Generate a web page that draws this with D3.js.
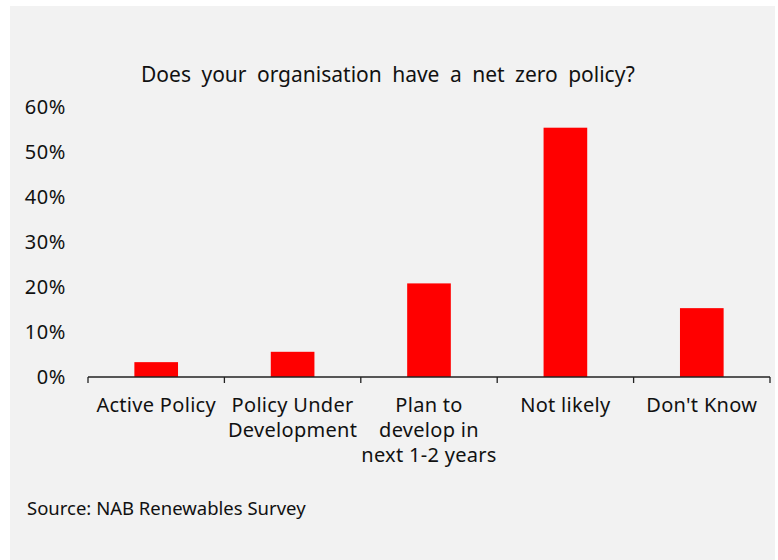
<!DOCTYPE html>
<html>
<head>
<meta charset="utf-8">
<script src="https://cdn.jsdelivr.net/npm/d3@7"></script>
<style>
  html, body { margin: 0; padding: 0; background: #ffffff; }
  svg { display: block; }
  text { font-family: "Noto Sans", "Open Sans", sans-serif; fill: #111; }
</style>
</head>
<body>
<svg id="chart" width="778" height="560"></svg>
<script>
// Survey responses: share of organisations by net zero policy status
const categories = ["Active Policy", "Policy Under Development", "Plan to develop in next 1-2 years", "Not likely", "Don't Know"];
const categoryLines = [["Active Policy"], ["Policy Under", "Development"], ["Plan to", "develop in", "next 1-2 years"], ["Not likely"], ["Don't Know"]];
const shares = [0.033, 0.056, 0.208, 0.554, 0.153];
const yTicks = [0, 0.1, 0.2, 0.3, 0.4, 0.5, 0.6];
const title = "Does your organisation have a net zero policy?";
const source = "Source: NAB Renewables Survey";

const svg = d3.select("#chart");

// panel background
svg.append("rect")
  .attr("x", 10).attr("y", 6)
  .attr("width", 765).attr("height", 554)
  .attr("fill", "#f2f2f2");

const x = d3.scaleBand()
  .domain(categories)
  .range([88, 770])
  .paddingInner(0.68)
  .paddingOuter(0.34);

const y = d3.scaleLinear()
  .domain([0, 0.6])
  .range([377, 107]);

// title
svg.append("text")
  .attr("x", 388).attr("y", 82)
  .attr("text-anchor", "middle")
  .style("font-size", "21px")
  .style("word-spacing", "5px")
  .text(title);

// y tick labels (no axis line)
svg.append("g")
  .selectAll("text")
  .data(yTicks)
  .join("text")
  .attr("x", 66)
  .attr("y", d => y(d))
  .attr("dy", "0.35em")
  .attr("text-anchor", "end")
  .style("font-size", "20px")
  .style("letter-spacing", "0.6px")
  .text(d => d3.format(".0%")(d));

// bars
svg.append("g")
  .selectAll("rect")
  .data(categories)
  .join("rect")
  .attr("x", d => x(d))
  .attr("y", (d, i) => y(shares[i]))
  .attr("width", x.bandwidth())
  .attr("height", (d, i) => y(0) - y(shares[i]))
  .attr("fill", "#ff0000");

// x axis line with ticks at category boundaries
const [x0, x1] = x.range();
const step = x.step();
const boundaries = d3.range(categories.length + 1).map(i => x0 + i * step);
const axis = svg.append("g").attr("stroke", "#222").attr("stroke-width", 1.3);
axis.append("line")
  .attr("x1", x0).attr("x2", x1)
  .attr("y1", y(0)).attr("y2", y(0));
axis.selectAll("line.tick")
  .data(boundaries)
  .join("line")
  .attr("class", "tick")
  .attr("x1", d => d).attr("x2", d => d)
  .attr("y1", y(0)).attr("y2", y(0) + 6);

// category labels
const labels = svg.append("g")
  .selectAll("text")
  .data(categories)
  .join("text")
  .attr("x", d => x(d) + x.bandwidth() / 2)
  .attr("y", 412)
  .attr("text-anchor", "middle")
  .style("font-size", "20px")
  .style("letter-spacing", "0.3px");
labels.selectAll("tspan")
  .data((d, i) => categoryLines[i])
  .join("tspan")
  .attr("x", function () { return d3.select(this.parentNode).attr("x"); })
  .attr("dy", (d, j) => j === 0 ? 0 : 25)
  .text(d => d);

// source note
svg.append("text")
  .attr("x", 27).attr("y", 515)
  .style("font-size", "18.5px")
  .text(source);
</script>
</body>
</html>
